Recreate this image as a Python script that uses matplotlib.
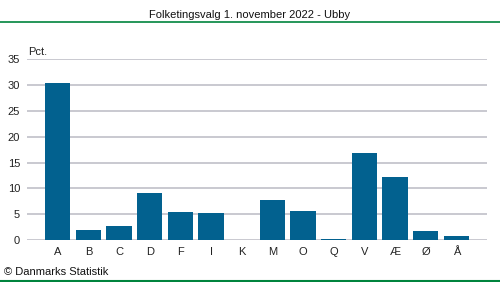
import matplotlib
matplotlib.use('Agg')
import matplotlib.pyplot as plt
from matplotlib.lines import Line2D

plt.rcParams['font.family'] = ['Liberation Sans', 'DejaVu Sans']

partier = ['A', 'B', 'C', 'D', 'F', 'I', 'K', 'M', 'O', 'Q', 'V', 'Æ', 'Ø', 'Å']
pct = [30.4, 1.9, 2.7, 9.1, 5.4, 5.2, 0.0, 7.8, 5.6, 0.2, 16.9, 12.2, 1.7, 0.7]
yticks = [0, 5, 10, 15, 20, 25, 30, 35]

W, H = 500, 282
fig = plt.figure(figsize=(W / 100, H / 100), dpi=100)
ax = fig.add_axes([27 / W, 1 - 240 / H, (487 - 27) / W, (240 - 59.3) / H])

x = range(len(partier))
ax.bar(x, pct, width=0.82, color='#02618f', zorder=3)
ax.set_xlim(-1, 14)
ax.set_ylim(0, 35)
ax.set_yticks(yticks)
ax.set_xticks(list(x))
ax.set_xticklabels(partier)
ax.yaxis.grid(True, color='#c0c0c8', linewidth=1.2, zorder=0)
for s in ax.spines.values():
    s.set_visible(False)
ax.tick_params(length=0, labelsize=8, colors='#222222')
ax.tick_params(axis='x', pad=5)
ax.tick_params(axis='y', pad=5)

ax.text(1 / W, 1.015, 'Pct.', transform=ax.transAxes, fontsize=8, color='#222222', ha='left', va='bottom')

fig.text(0.5, 1 - 15 / H, 'Folketingsvalg 1. november 2022 - Ubby', ha='center', va='center', fontsize=8, color='#111111')
fig.add_artist(Line2D([0, 1], [1 - 22 / H, 1 - 22 / H], transform=fig.transFigure, color='#00843d', linewidth=1.2))
fig.add_artist(Line2D([0, 1], [1 - 281 / H, 1 - 281 / H], transform=fig.transFigure, color='#00843d', linewidth=1.5))
fig.text(4 / W, 1 - 272 / H, '© Danmarks Statistik', ha='left', va='center', fontsize=8, color='#111111')

fig.savefig('out.png', dpi=100)
